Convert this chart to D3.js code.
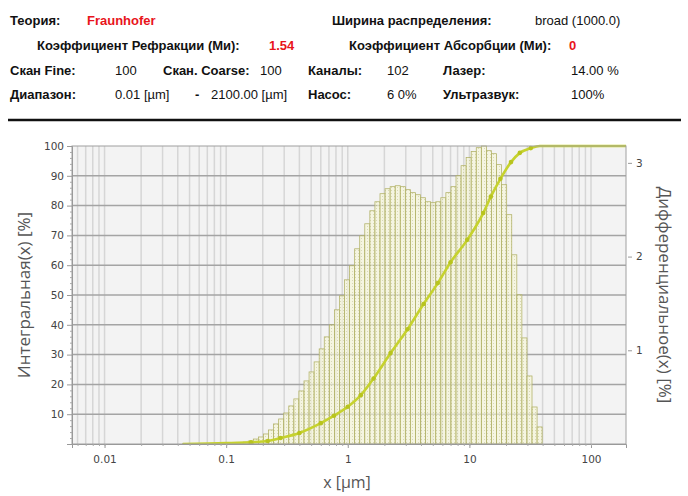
<!DOCTYPE html>
<html>
<head>
<meta charset="utf-8">
<script src="https://cdn.jsdelivr.net/npm/d3@7"></script>
<style>
  body { margin: 0; background: #fff; }
  svg { display: block; }
</style>
</head>
<body>
<svg id="chart" width="688" height="496"></svg>
<script>
// channel edges, µm
const sizeEdges = [
  0.04365, 0.04805, 0.05289, 0.05821, 0.06408, 0.07053, 0.07762, 0.08545, 0.09405,
  0.1035, 0.1139, 0.1254, 0.1380, 0.1519, 0.1672, 0.1841, 0.2026, 0.2230, 0.2455, 0.2702, 0.2974,
  0.3273, 0.3603, 0.3965, 0.4365, 0.4805, 0.5289, 0.5821, 0.6408, 0.7053, 0.7762, 0.8545, 0.9405,
  1.035, 1.139, 1.254, 1.380, 1.519, 1.672, 1.841, 2.026, 2.230, 2.455, 2.702, 2.974,
  3.273, 3.603, 3.965, 4.365, 4.805, 5.289, 5.821, 6.408, 7.053, 7.762, 8.545, 9.405,
  10.35, 11.39, 12.54, 13.80, 15.19, 16.72, 18.41, 20.26, 22.30, 24.55, 27.02, 29.74,
  32.73, 36.03, 39.65
]

// differential, % per channel
const diffValues = [
  0.003, 0.004, 0.004, 0.005, 0.005, 0.006, 0.007, 0.009, 0.010, 0.011,
  0.013, 0.016, 0.021, 0.032, 0.053, 0.075, 0.107, 0.150, 0.214, 0.267,
  0.331, 0.406, 0.481, 0.566, 0.673, 0.769, 0.876, 1.015, 1.143, 1.271,
  1.432, 1.581, 1.752, 1.902, 2.083, 2.222, 2.350, 2.489, 2.585, 2.671,
  2.724, 2.746, 2.756, 2.746, 2.714, 2.682, 2.660, 2.628, 2.585, 2.575,
  2.585, 2.628, 2.682, 2.746, 2.863, 2.970, 3.056, 3.120, 3.162, 3.180,
  3.130, 3.098, 2.981, 2.767, 2.447, 2.019, 1.592, 1.132, 0.726, 0.395,
  0.182
]

// integral curve
const cumSizes = [0.044, 0.1, 0.16, 0.22, 0.28, 0.4, 0.6, 0.77, 1.0, 1.28, 1.63, 2.25, 3.1,
  4.2, 5.5, 7.0, 9.6, 13, 15, 18, 22, 26, 32, 38, 60, 100, 194]
const cumValues = [0, 0.3, 0.6, 1.0, 2.0, 3.7, 7, 9.5, 12.5, 16.4, 22, 30.5, 38.5,
  47, 54, 61, 68.5, 77.5, 83, 89, 94.6, 97.7, 99.3, 100, 100, 100, 100]

const xTickValues = [0.01, 0.1, 1, 10, 100]
const leftTickValues = [10, 20, 30, 40, 50, 60, 70, 80, 90, 100]
const rightTickValues = [1, 2, 3]

const headerRows = [
  ['Теория:', 'Fraunhofer', 'Ширина распределения:', 'broad (1000.0)'],
  ['Коэффициент Рефракции (Ми):', '1.54', 'Коэффициент Абсорбции (Ми):', '0'],
  ['Скан Fine:', '100', 'Скан. Coarse:', '100', 'Каналы:', '102', 'Лазер:', '14.00 %'],
  ['Диапазон:', '0.01 [µm]', '-', '2100.00 [µm]', 'Насос:', '6 0%', 'Ультразвук:', '100%']
]

const svg = d3.select('#chart')

// header layout
const headerX = [
  [10, 87, 332, 535],
  [37, 269, 349, 569],
  [10, 115, 163, 260, 308, 387, 443, 571],
  [10, 115, 195, 211, 308, 387, 443, 571]
]
const headerY = [25, 50, 75, 99]
const boldCells = [[1, 1, 1, 0], [1, 1, 1, 1], [1, 0, 1, 0, 1, 0, 1, 0], [1, 0, 1, 0, 1, 0, 1, 0]]
const redCells = [[0, 1, 0, 0], [0, 1, 0, 1], [], []]

headerRows.forEach((row, r) => {
  row.forEach((t, c) => {
    svg.append('text')
      .attr('x', headerX[r][c])
      .attr('y', headerY[r])
      .attr('font-family', 'Liberation Sans, Arial, sans-serif')
      .attr('font-size', 13)
      .attr('font-weight', boldCells[r][c] ? 'bold' : 'normal')
      .attr('fill', redCells[r][c] ? '#e8141b' : '#111')
      .text(t)
  })
})

svg.append('line')
  .attr('x1', 8).attr('x2', 681)
  .attr('y1', 120).attr('y2', 120)
  .attr('stroke', '#111').attr('stroke-width', 2.5)

// plot
const pLeft = 72, pRight = 626, pTop = 146, pBottom = 444

const x = d3.scaleLog().domain([0.0054, 194]).range([pLeft, pRight])
const yL = d3.scaleLinear().domain([0, 100]).range([pBottom, pTop])
const yR = d3.scaleLinear().domain([0, 3.18]).range([pBottom, pTop])

const defs = svg.append('defs')
const pat = defs.append('pattern')
  .attr('id', 'dots')
  .attr('width', 3).attr('height', 3)
  .attr('patternUnits', 'userSpaceOnUse')
pat.append('rect').attr('width', 3).attr('height', 3).attr('fill', '#f6f6d6')
pat.append('rect').attr('x', 1).attr('y', 1).attr('width', 1).attr('height', 1).attr('fill', '#c8c890')

defs.append('clipPath').attr('id', 'plotclip')
  .append('rect')
  .attr('x', pLeft).attr('y', pTop - 2)
  .attr('width', pRight - pLeft).attr('height', pBottom - pTop + 2)

svg.append('rect')
  .attr('x', pLeft).attr('y', pTop)
  .attr('width', pRight - pLeft).attr('height', pBottom - pTop)
  .attr('fill', '#f3f3f3')

// vertical grid: 1..9 per decade
const minorX = []
for (let e = -3; e <= 2; e++) {
  for (let m = 1; m <= 9; m++) {
    const v = m * Math.pow(10, e)
    if (v > x.domain()[0] && v < x.domain()[1]) minorX.push(v)
  }
}

const plot = svg.append('g').attr('clip-path', 'url(#plotclip)')

plot.selectAll('.vgrid')
  .data(minorX)
  .enter().append('line')
    .attr('class', 'vgrid')
    .attr('x1', d => x(d)).attr('x2', d => x(d))
    .attr('y1', pTop).attr('y2', pBottom)
    .attr('stroke', '#d6d6d6')
    .attr('stroke-width', 1.5)

plot.selectAll('.hgrid')
  .data(leftTickValues.slice(0, -1))
  .enter().append('line')
    .attr('class', 'hgrid')
    .attr('x1', pLeft).attr('x2', pRight)
    .attr('y1', d => yL(d)).attr('y2', d => yL(d))
    .attr('stroke', '#a4a4a4')
    .attr('stroke-width', 1.5)

// bars
plot.selectAll('.bar')
  .data(diffValues)
  .enter().append('rect')
    .attr('class', 'bar')
    .attr('x', (d, i) => x(sizeEdges[i]))
    .attr('width', (d, i) => x(sizeEdges[i + 1]) - x(sizeEdges[i]))
    .attr('y', d => yR(d))
    .attr('height', d => pBottom - yR(d))
    .attr('fill', 'url(#dots)')
    .attr('fill-opacity', 0.62)
    .attr('stroke', '#b0b064')
    .attr('stroke-width', 0.75)

// integral line
const cumData = cumSizes.map((s, i) => [s, cumValues[i]])
const line = d3.line()
  .x(d => x(d[0]))
  .y(d => yL(d[1]))
  .curve(d3.curveMonotoneX)

plot.append('path')
  .datum(cumData)
  .attr('d', line)
  .attr('fill', 'none')
  .attr('stroke', '#c6d22e')
  .attr('stroke-width', 2.6)

plot.selectAll('.mark')
  .data(cumData.filter(d => d[1] > 0.5 && d[1] < 100))
  .enter().append('circle')
    .attr('class', 'mark')
    .attr('cx', d => x(d[0]))
    .attr('cy', d => yL(d[1]))
    .attr('r', 2.3)
    .attr('fill', '#b8c41e')

// frame
svg.append('rect')
  .attr('x', pLeft).attr('y', pTop)
  .attr('width', pRight - pLeft).attr('height', pBottom - pTop)
  .attr('fill', 'none')
  .attr('stroke', '#a0a0a0')
  .attr('stroke-width', 1)

const tickFont = 'DejaVu Sans, Verdana, sans-serif'
const tickColor = '#444'

// left axis
const yAxisL = d3.axisLeft(yL)
  .tickValues(leftTickValues)
  .tickSize(5)
  .tickPadding(3)
const gL = svg.append('g').attr('transform', `translate(${pLeft},0)`).call(yAxisL)
gL.select('.domain').attr('stroke', '#999')
gL.selectAll('.tick line').attr('stroke', '#999')
gL.selectAll('text').attr('font-family', tickFont).attr('font-size', 10.5).attr('fill', tickColor)

svg.append('g').attr('transform', `translate(${pLeft},0)`)
  .call(d3.axisLeft(yL).tickValues(d3.range(2, 100, 2).filter(v => v % 10)).tickSize(2).tickFormat(''))
  .call(g => g.select('.domain').remove())
  .call(g => g.selectAll('line').attr('stroke', '#aaa'))

// bottom axis
const gB = svg.append('g').attr('transform', `translate(0,${pBottom})`)
  .call(d3.axisBottom(x).tickValues(xTickValues).tickFormat(d3.format('~g')).tickSize(4).tickPadding(8))
gB.select('.domain').attr('stroke', '#999')
gB.selectAll('.tick line').attr('stroke', '#999')
gB.selectAll('text').attr('font-family', tickFont).attr('font-size', 10.5).attr('fill', tickColor)

svg.append('g').attr('transform', `translate(0,${pBottom})`)
  .call(d3.axisBottom(x).tickValues(minorX).tickSize(2).tickFormat(''))
  .call(g => g.select('.domain').remove())
  .call(g => g.selectAll('line').attr('stroke', '#aaa'))

// right axis
const gR = svg.append('g').attr('transform', `translate(${pRight},0)`)
  .call(d3.axisRight(yR).tickValues(rightTickValues).tickFormat(d3.format('d')).tickSize(6).tickPadding(4))
gR.select('.domain').remove()
gR.selectAll('.tick line').attr('stroke', '#999').attr('x1', 2)
gR.selectAll('text').attr('font-family', tickFont).attr('font-size', 10.5).attr('fill', tickColor)

// axis titles
const titleFont = 'Open Sans, Noto Sans, sans-serif'
svg.append('text')
  .attr('transform', `translate(30,${(pTop + pBottom) / 2}) rotate(-90)`)
  .attr('text-anchor', 'middle')
  .attr('font-family', titleFont)
  .attr('font-size', 17)
  .attr('fill', '#555')
  .text('Интегральная(x) [%]')

svg.append('text')
  .attr('transform', `translate(659,${(pTop + pBottom) / 2}) rotate(90)`)
  .attr('text-anchor', 'middle')
  .attr('font-family', titleFont)
  .attr('font-size', 17)
  .attr('fill', '#555')
  .text('Дифференциальное(x) [%]')

svg.append('text')
  .attr('x', 347).attr('y', 488)
  .attr('text-anchor', 'middle')
  .attr('font-family', titleFont)
  .attr('font-size', 16)
  .attr('fill', '#555')
  .text('x [µm]')
</script>
</body>
</html>
